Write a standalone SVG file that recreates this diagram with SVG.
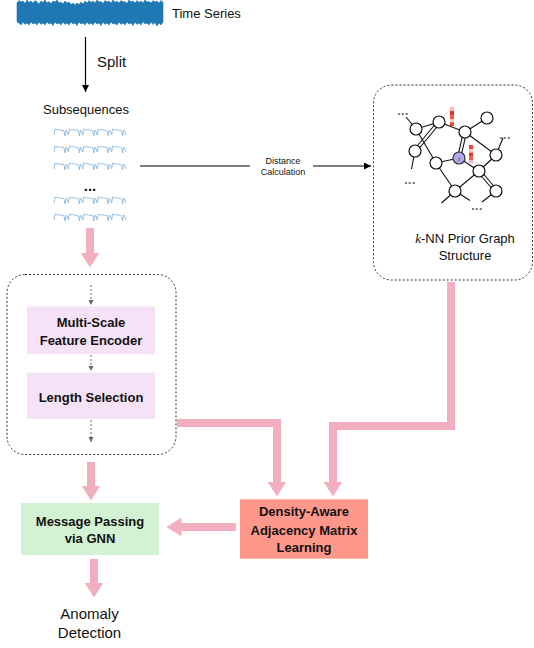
<svg xmlns="http://www.w3.org/2000/svg" xmlns:xlink="http://www.w3.org/1999/xlink" width="534" height="648" viewBox="0 0 534 648">
<style>
.t{font-family:"Liberation Sans",Arial,sans-serif;fill:#111;}
.b{font-weight:bold;}
.pk{fill:none;stroke:#F1AFC0;stroke-width:8;stroke-linejoin:miter;marker-end:url(#ph);}
.gd{fill:none;stroke:#666;stroke-width:1;stroke-dasharray:2,2;marker-end:url(#gh);}
.ge{stroke:#111;stroke-width:1.1;fill:none;}
.gn{fill:#fff;stroke:#111;stroke-width:1.2;}
.dots{font-family:"Liberation Sans",Arial,sans-serif;font-size:12px;font-weight:bold;fill:#666;text-anchor:middle;letter-spacing:0.5px;}
.wv{fill:none;stroke:#8ab8de;stroke-width:0.9;}
</style>
<defs>
<marker id="ph" markerUnits="userSpaceOnUse" markerWidth="16" markerHeight="20" refX="0.5" refY="9.5" orient="auto"><path d="M0,0 L15,9.5 L0,19 z" fill="#F1AFC0"/></marker>
<marker id="bh" markerUnits="userSpaceOnUse" markerWidth="8" markerHeight="8" refX="7" refY="3.5" orient="auto"><path d="M0,0 L7,3.5 L0,7 z" fill="#000"/></marker>
<marker id="gh" markerUnits="userSpaceOnUse" markerWidth="6" markerHeight="6" refX="5" refY="2.5" orient="auto"><path d="M0,0 L5,2.5 L0,5 z" fill="#666"/></marker>
<path id="wave" class="wv" d="M0,3 l1,-6 l2,1 l2,-0.5 l2,1 l2,-0.5 l1,1 l1,5 l1,-6 l1,1 l1.4,4 l1,-6 l2,1 l2,-0.5 l2,1 l2,-0.5 l1,1 l1,5 l1,-6 l1,1 l1.4,4 l1,-6 l2,1 l2,-0.5 l2,1 l2,-0.5 l1,1 l1,5 l1,-6 l1,1 l1.4,4 l1,-6 l2,1 l2,-0.5 l2,1 l2,-0.5 l1,1 l1,5 l1,-6 l1,1 l1.4,4 l1,-6 l2,1 l2,-0.5 l2,1 l2,-0.5 l1,1 l1,5 l1,-6 l1,1 l1.4,4"/>
</defs>

<g id="time-series">
<path fill="#1f77b4" stroke="#1f77b4" stroke-width="0.6" stroke-linejoin="bevel" d="M17,3 L19,0.5 21,2 23,1 25,3.5 27,0 29,2.5 31,1 33,3 35,0.5 37,2 39,4 41,1 43,2.5 45,0 47,3 49,1.5 51,3.5 53,1 55,2 57,0 59,3 61,2 63,4 65,1 67,3 69,2 71,4.5 73,3 75,5 77,3 79,4.5 81,2 83,4 85,1 87,3 89,0.5 91,2.5 93,1 95,3 97,0 99,2 101,1.5 103,3.5 105,0.5 107,2 109,1 111,3 113,0 115,2.5 117,1 119,3 121,0.5 123,2 125,1.5 127,3.5 129,0 131,2 133,1 135,3 137,0.5 139,2.5 141,1 143,3 145,0 147,2 149,1.5 151,3 153,0.5 155,2 157,1 159,3 161,0.5 163,2.5 L163,22 161,25 159,23 157,26 155,22.5 153,24.5 151,22 149,25 147,23 145,24 143,21.5 141,25 139,23 137,24.5 135,22 133,25.5 131,23 129,24 127,22 125,25 123,23 121,24.5 119,22 117,25 115,23.5 113,24 111,22 109,25 107,23 105,24.5 103,22 101,25.5 99,23 97,24 95,22 93,25 91,23 89,24.5 87,22 85,25 83,23 81,24 79,22 77,25.5 75,23 73,24 71,22 69,25 67,23 65,24.5 63,22 61,25 59,23 57,24 55,22 53,25.5 51,23 49,24 47,22 45,25 43,23 41,24.5 39,22 37,25 35,23 33,24 31,22 29,25 27,23 25,24.5 23,22 21,25 19,23 17,22 Z"/>
<text class="t" x="172" y="18" font-size="13">Time Series</text>
</g>

<g id="subsequences">
<text class="t" x="86" y="114" font-size="13" text-anchor="middle">Subsequences</text>
<use xlink:href="#wave" x="54" y="132"/>
<use xlink:href="#wave" x="54" y="149"/>
<use xlink:href="#wave" x="54" y="166"/>
<text class="t b" x="90" y="191" font-size="15" text-anchor="middle">...</text>
<use xlink:href="#wave" x="54" y="200"/>
<use xlink:href="#wave" x="54" y="217"/>
</g>

<g id="knn-graph">
<rect x="373.5" y="85" width="159" height="195" rx="18" fill="none" stroke="#333" stroke-width="1" stroke-dasharray="2,2"/>
<g>
<line class="ge" x1="416" y1="129" x2="439" y2="122"/>
<line class="ge" x1="440.2" y1="123" x2="416.2" y2="152"/>
<line class="ge" x1="437.8" y1="121" x2="413.8" y2="150"/>
<line class="ge" x1="416" y1="129" x2="436" y2="163"/>
<line class="ge" x1="416" y1="129" x2="406" y2="117"/>
<line class="ge" x1="415" y1="151" x2="411.5" y2="169"/>
<line class="ge" x1="439" y1="122" x2="465" y2="132"/>
<line class="ge" x1="465" y1="132" x2="487" y2="118"/>
<line class="ge" x1="466.5" y1="132.3" x2="460.5" y2="158.3"/>
<line class="ge" x1="463.5" y1="131.7" x2="457.5" y2="157.7"/>
<line class="ge" x1="465" y1="132" x2="496" y2="155"/>
<line class="ge" x1="436" y1="163" x2="459" y2="158"/>
<line class="ge" x1="436" y1="163" x2="455" y2="191"/>
<line class="ge" x1="459" y1="158" x2="479" y2="171"/>
<line class="ge" x1="479" y1="171" x2="496" y2="155"/>
<line class="ge" x1="496" y1="155" x2="503" y2="138"/>
<line class="ge" x1="480.1" y1="170" x2="497.1" y2="190"/>
<line class="ge" x1="477.9" y1="172" x2="494.9" y2="192"/>
<line class="ge" x1="479" y1="171" x2="455" y2="191"/>
<line class="ge" x1="455" y1="191" x2="441.5" y2="203"/>
<line class="ge" x1="455" y1="191" x2="470" y2="200.5"/>
<line class="ge" x1="496" y1="191" x2="482" y2="202"/>
</g>
<circle class="gn" cx="416" cy="129" r="6"/>
<circle class="gn" cx="439" cy="122" r="6"/>
<circle class="gn" cx="487" cy="118" r="6"/>
<circle class="gn" cx="465" cy="132" r="6"/>
<circle class="gn" cx="415" cy="151" r="6"/>
<circle class="gn" cx="436" cy="163" r="6"/>
<circle cx="459" cy="158" r="6" fill="#b4a7ec" stroke="#333" stroke-width="1.2"/>
<text x="459" y="160.5" font-family="Liberation Serif,serif" font-style="italic" font-size="7" fill="#333" text-anchor="middle">i</text>
<circle class="gn" cx="496" cy="155" r="6"/>
<circle class="gn" cx="479" cy="171" r="6"/>
<circle class="gn" cx="455" cy="191" r="6"/>
<circle class="gn" cx="496" cy="191" r="6"/>
<rect x="450" y="106.7" width="4" height="4.3" fill="#f7b8b8"/>
<rect x="450" y="111" width="4" height="4.7" fill="#e8302a"/>
<rect x="450" y="115.7" width="4" height="3.6" fill="#f05a48"/>
<rect x="450" y="119.3" width="4" height="3" fill="#f8c8c8"/>
<rect x="450" y="122.3" width="4" height="3.7" fill="#ee4433"/>
<rect x="469" y="145" width="4" height="4" fill="#ee4433"/>
<rect x="469" y="149" width="4" height="3.7" fill="#f8c4c4"/>
<rect x="469" y="152.7" width="4" height="4" fill="#e8302a"/>
<rect x="469" y="156.7" width="4" height="3.3" fill="#f05a48"/>
<rect x="469" y="160" width="4" height="3.3" fill="#f7b4b4"/>
<text class="dots" x="403" y="115">...</text>
<text class="dots" x="505" y="138.5">...</text>
<text class="dots" x="410" y="183.5">...</text>
<text class="dots" x="477" y="209.5">...</text>
<text class="t" x="465" y="243" font-size="13" text-anchor="middle"><tspan font-family="Liberation Serif,serif" font-style="italic">k</tspan>-NN Prior Graph</text>
<text class="t" x="465" y="260" font-size="13" text-anchor="middle">Structure</text>
</g>

<g id="encoder-group">
<rect x="7" y="274.5" width="169" height="180" rx="18" fill="none" stroke="#333" stroke-width="1" stroke-dasharray="2,2"/>
</g>

<g id="multi-scale-encoder">
<rect x="27" y="306.5" width="128" height="47.5" fill="#F6E2F6"/>
<text class="t b" x="91" y="327" font-size="13" text-anchor="middle">Multi-Scale</text>
<text class="t b" x="91" y="345" font-size="13" text-anchor="middle">Feature Encoder</text>
</g>

<g id="length-selection">
<rect x="27" y="372.7" width="128" height="46.3" fill="#F6E2F6"/>
<text class="t b" x="91" y="401.5" font-size="13" text-anchor="middle">Length Selection</text>
</g>

<g id="density-aware">
<rect x="240" y="499.3" width="128" height="59.4" fill="#FF978B"/>
<text class="t b" x="304" y="516" font-size="13" text-anchor="middle">Density-Aware</text>
<text class="t b" x="304" y="534.5" font-size="13" text-anchor="middle">Adjacency Matrix</text>
<text class="t b" x="304" y="552" font-size="13" text-anchor="middle">Learning</text>
</g>

<g id="message-passing">
<rect x="21" y="503" width="138" height="52" fill="#D3F1D3"/>
<text class="t b" x="90" y="526" font-size="13" text-anchor="middle">Message Passing</text>
<text class="t b" x="90" y="542.5" font-size="13" text-anchor="middle">via GNN</text>
</g>

<g id="anomaly-detection">
<text class="t" x="89.5" y="618.5" font-size="15" text-anchor="middle">Anomaly</text>
<text class="t" x="89.5" y="638" font-size="15" text-anchor="middle">Detection</text>
</g>

<g id="connectors">
<line x1="85.5" y1="37" x2="85.5" y2="92" stroke="#000" stroke-width="1.2" marker-end="url(#bh)"/>
<text class="t" x="97" y="67" font-size="15">Split</text>
<line x1="140" y1="166" x2="250" y2="166" stroke="#000" stroke-width="1.2"/>
<line x1="313" y1="166" x2="371" y2="166" stroke="#000" stroke-width="1.2" marker-end="url(#bh)"/>
<text class="t" x="283" y="164" font-size="9" text-anchor="middle">Distance</text>
<text class="t" x="283" y="175" font-size="9" text-anchor="middle">Calculation</text>
<path class="gd" d="M91,285 V305"/>
<path class="gd" d="M91,355 V371"/>
<path class="gd" d="M91,420 V442"/>
<path class="pk" d="M90,228 V253"/>
<path class="pk" d="M91,462 V486"/>
<path class="pk" d="M94,559 V583"/>
<path class="pk" d="M236,527 H181"/>
<path class="pk" d="M177,423 H277 V482"/>
<path class="pk" d="M451,282 V426 H333 V482"/>
</g>
</svg>
